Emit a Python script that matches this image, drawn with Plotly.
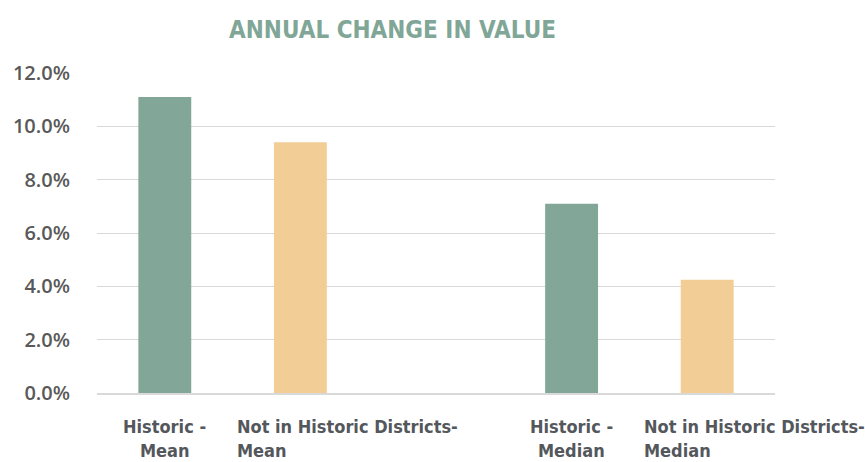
import plotly.graph_objects as go

categories = ["Historic - Mean", "Not in Historic Districts- Mean", " ",
              "Historic - Median", "Not in Historic Districts- Median"]
label_lines = [["Historic -", "Mean"], ["Not in Historic Districts-", "Mean"], None,
               ["Historic -", "Median"], ["Not in Historic Districts-", "Median"]]
values = [0.111, 0.094, None, 0.071, 0.0425]
colors = ["#82A798", "#F2CD96", "#FFFFFF", "#82A798", "#F2CD96"]

label_font = dict(family="DejaVu Sans Condensed, sans-serif",
                  size=18, color="#54575c", weight="bold")

fig = go.Figure(go.Bar(x=categories, y=values, marker=dict(color=colors, line=dict(width=0)),
                       width=0.39, hoverinfo="skip"))

annotations = []
for cat, lines in zip(categories, label_lines):
    if lines is None:
        continue
    centered = lines[0].startswith("Historic")
    for i, line in enumerate(lines):
        annotations.append(dict(x=cat, y=0, xref="x", yref="y", yanchor="top",
                                xanchor="center" if centered else "left",
                                xshift=0 if centered else -65,
                                yshift=-21 - 24 * i, showarrow=False,
                                text=line, font=label_font))

fig.update_layout(
    width=865, height=462,
    margin=dict(l=97, r=90, t=73, b=69),
    paper_bgcolor="white", plot_bgcolor="white",
    showlegend=False,
    title=dict(text="ANNUAL CHANGE IN VALUE", x=392.5 / 865, xanchor="center",
               y=1 - 30 / 462, yanchor="middle", xref="container", yref="container",
               font=dict(family="DejaVu Sans Condensed, sans-serif", weight="bold",
                         size=24, color="#7FA696")),
    xaxis=dict(type="category", categoryorder="array", categoryarray=categories,
               showticklabels=False, showgrid=False, showline=True, linecolor="#d9d9d9",
               linewidth=2, ticks="", range=[-0.5, 4.5]),
    yaxis=dict(range=[0, 0.12], dtick=0.02, tickformat=".1%", showgrid=True,
               gridcolor="#d9d9d9", gridwidth=1, zeroline=False, showline=False,
               ticks="", ticklabelstandoff=26,
               tickfont=dict(family="Open Sans, sans-serif", size=20, weight=600,
                             color="#595959")),
    annotations=annotations,
    bargap=0.61,
)

fig.write_html("out.html", config={"displayModeBar": False},
               post_script="document.body.style.margin='0';")
